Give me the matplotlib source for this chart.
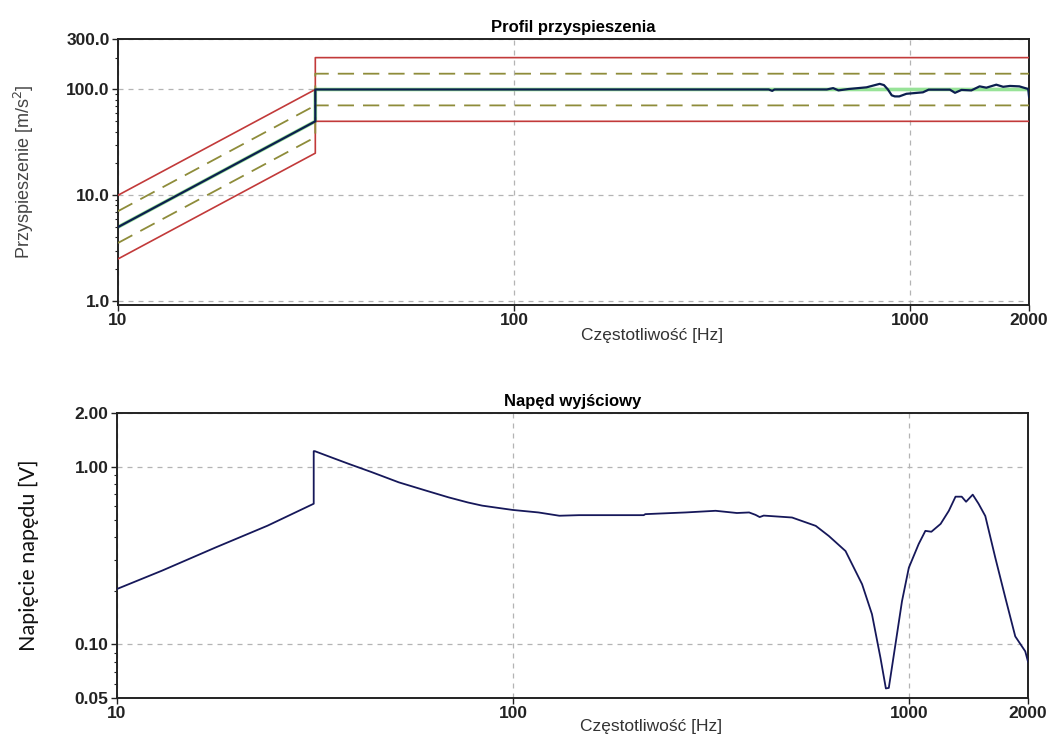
import numpy as np
import matplotlib
matplotlib.use("Agg")
import matplotlib.pyplot as plt
from matplotlib.ticker import FixedLocator, NullLocator, LogLocator, NullFormatter

plt.rcParams['font.family'] = ['Liberation Sans', 'DejaVu Sans']

# Profil referencyjny przyspieszenia [m/s^2]
ref_freq = [10, 31.5, 31.5, 2000]
ref_acc = [5, 50, 100, 100]

# Granice alarmowe (+/-6 dB) i ostrzegawcze (+/-3 dB)
abort_hi = [10, 100, 200, 200]
abort_lo = [2.5, 25, 50, 50]
warn_hi = [7.07, 70.7, 141, 141]
warn_lo = [3.54, 35.4, 70.7, 70.7]

# Przyspieszenie zmierzone
meas_freq = [10, 31.5, 31.5, 440, 449, 455, 617, 640, 660, 700, 777, 839, 860,
             880, 900, 916, 940, 980, 1079, 1115, 1262, 1300, 1350, 1430, 1500,
             1560, 1653, 1720, 1790, 1890, 1990, 2000]
meas_acc = [5, 50, 100, 100, 97, 100, 100, 103, 98, 101, 104.8, 113, 110,
            100, 88, 86, 86, 91, 94, 99.6, 99.6, 93, 99, 98, 107,
            104, 111, 106, 108, 107, 101, 85]

# Napięcie napędu [V]
drive_freq = [10, 13, 17.7, 24, 31.4, 31.4, 31.6, 35, 38.5, 44, 51.5, 60, 68.8,
              77, 83.6, 92, 100, 116, 131, 147, 214, 216, 273, 325, 368, 395,
              410, 420, 430, 507, 582, 628, 692, 762, 807, 848, 875, 890, 925,
              961, 1000, 1059, 1101, 1140, 1203, 1262, 1312, 1360, 1395, 1450,
              1500, 1560, 1653, 1753, 1857, 1968, 2000]
drive_v = [0.205, 0.26, 0.35, 0.465, 0.618, 1.22, 1.22, 1.12, 1.035, 0.93,
           0.815, 0.735, 0.671, 0.628, 0.603, 0.585, 0.570, 0.552, 0.529, 0.533,
           0.533, 0.54, 0.552, 0.564, 0.548, 0.552, 0.535, 0.52, 0.53, 0.517,
           0.464, 0.407, 0.335, 0.218, 0.148, 0.084, 0.0566, 0.057, 0.1, 0.175,
           0.27, 0.367, 0.435, 0.43, 0.476, 0.564, 0.677, 0.677, 0.634, 0.695,
           0.618, 0.527, 0.308, 0.183, 0.111, 0.0915, 0.08]

x_ticks = [10, 100, 1000, 2000]
x_labels = ['10', '100', '1000', '2000']
top_yticks = [1, 10, 100, 300]
top_ylabels = ['1.0', '10.0', '100.0', '300.0']
bot_yticks = [0.05, 0.1, 1.0, 2.0]
bot_ylabels = ['0.05', '0.10', '1.00', '2.00']

fig = plt.figure(figsize=(10.49, 7.36), dpi=100)
ax1 = fig.add_axes([0.1125, 0.5856, 0.8685, 0.3614])
ax2 = fig.add_axes([0.1115, 0.0516, 0.8685, 0.3873])


def styl_osi(ax, yticks, ylabels, ylim, xlab_y):
    ax.set_xscale('log')
    ax.set_yscale('log')
    ax.set_xlim(10, 2000)
    ax.set_ylim(*ylim)
    ax.xaxis.set_major_locator(FixedLocator(x_ticks))
    ax.set_xticklabels(x_labels, fontsize=12.5, fontweight='bold')
    ax.xaxis.set_minor_locator(NullLocator())
    ax.yaxis.set_major_locator(FixedLocator(yticks))
    ax.set_yticklabels(ylabels, fontsize=12.5, fontweight='bold')
    ax.yaxis.set_minor_locator(LogLocator(base=10, subs=np.arange(2, 10)))
    ax.yaxis.set_minor_formatter(NullFormatter())
    ax.tick_params(which='major', length=4, width=1, pad=2, colors='#222222')
    ax.tick_params(which='minor', length=2, width=0.8, colors='#222222')
    ax.grid(True, which='major', color='#b4b4b4', linestyle=(0, (4, 4)), linewidth=0.9)
    for s in ax.spines.values():
        s.set_linewidth(1.4)
        s.set_color('#222222')
    ax.set_xlabel('Częstotliwość [Hz]', fontsize=12.5, color='#333333')
    ax.xaxis.set_label_coords(0.586, xlab_y)


# --- Profil przyspieszenia ---
styl_osi(ax1, top_yticks, top_ylabels, (0.917, 300), -0.085)
ax1.plot(ref_freq, ref_acc, color='#98e398', lw=2.6, zorder=2)
ax1.plot(ref_freq, abort_hi, color='#c23a3a', lw=1.2, zorder=3)
ax1.plot(ref_freq, abort_lo, color='#c23a3a', lw=1.2, zorder=3)
ax1.plot(ref_freq, warn_hi, color='#8e8c3a', lw=1.3, dashes=(9, 5), zorder=3)
ax1.plot(ref_freq, warn_lo, color='#8e8c3a', lw=1.3, dashes=(9, 5), zorder=3)
ax1.plot(meas_freq, meas_acc, color='#0c1f4f', lw=1.6, zorder=4)
ax1.set_title('Profil przyspieszenia', fontsize=12, fontweight='bold', pad=5)
ax1.set_ylabel('Przyspieszenie [m/s$^2$]', fontsize=13, color='#444444', labelpad=22)

# --- Napęd wyjściowy ---
styl_osi(ax2, bot_yticks, bot_ylabels, (0.05, 2.0), -0.075)
ax2.plot(drive_freq, drive_v, color='#16185a', lw=1.3, zorder=4)
ax2.set_title('Napęd wyjściowy', fontsize=12, fontweight='bold', pad=5)
ax2.set_ylabel('Napięcie napędu [V]', fontsize=15.5, family=['Lato', 'DejaVu Sans'],
               color='#111111', labelpad=26)

fig.savefig('out.png', dpi=100)
